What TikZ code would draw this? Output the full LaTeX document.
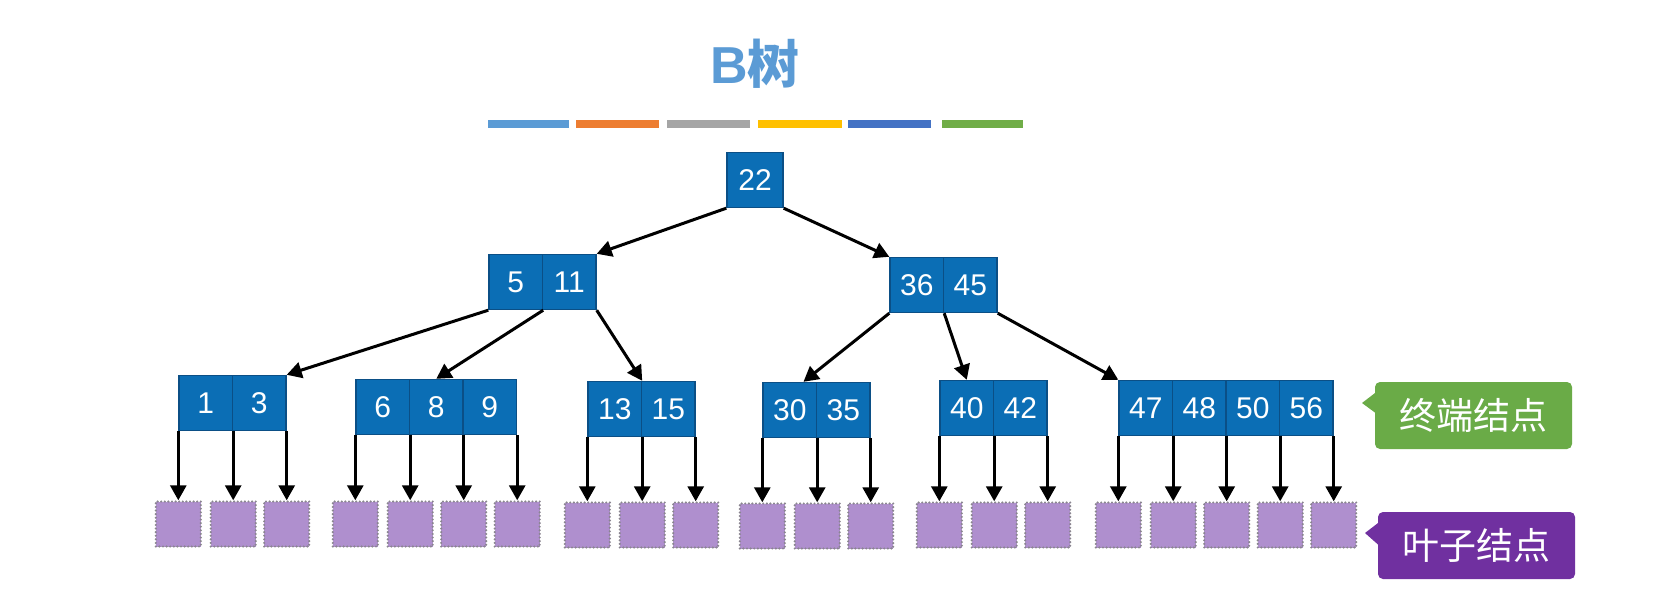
\documentclass[tikz,border=0pt]{standalone}
\usepackage{fontspec}
\setmainfont{Liberation Sans}
\newfontfamily\cjk{Noto Sans CJK SC}
\usetikzlibrary{arrows.meta,calc}
\definecolor{nodeblue}{HTML}{0B6EB5}
\definecolor{nodeedge}{HTML}{0B4F86}
\definecolor{leaffill}{HTML}{AF8FCE}
\definecolor{leafedge}{HTML}{8A8590}
\definecolor{titleblue}{HTML}{5B9BD5}
\definecolor{barA}{HTML}{5B9BD5}
\definecolor{barB}{HTML}{ED7D31}
\definecolor{barC}{HTML}{A5A5A5}
\definecolor{barD}{HTML}{FFC000}
\definecolor{barE}{HTML}{4472C4}
\definecolor{barF}{HTML}{70AD47}
\definecolor{termgreen}{HTML}{6AAB47}
\definecolor{leafpurple}{HTML}{7030A0}
\begin{document}
\begin{tikzpicture}[x=1pt,y=-1pt,
  cell/.style={draw=nodeedge, line width=1.4pt, fill=nodeblue, text=white,
    minimum width=53.5pt, minimum height=55pt, inner sep=0pt,
    font=\fontsize{30}{30}\selectfont},
  leaf/.style={draw=leafedge, dash pattern=on 0pt off 3.6pt, line cap=round, line width=2.4pt,
    fill=leaffill, minimum width=45pt, minimum height=45pt, inner sep=0pt},
  edge/.style={line width=3pt, -{Triangle[length=15pt,width=16pt]}},
  lab/.style={text=white, rounded corners=5pt, minimum width=197pt,
    minimum height=67pt, inner sep=0pt, font=\cjk\fontsize{37}{37}\selectfont},
]
\fill[white] (0,0) rectangle (1661,605);
\useasboundingbox (0,0) rectangle (1661,605);

% title
\node[text=titleblue, font=\fontsize{52}{52}\selectfont\bfseries] (title) at (755,64) {B{\cjk 树}};
\fill[barA] (488,120) rectangle (569,128);
\fill[barB] (576,120) rectangle (659,128);
\fill[barC] (667,120) rectangle (750,128);
\fill[barD] (758,120) rectangle (842,128);
\fill[barE] (848,120) rectangle (931,128);
\fill[barF] (942,120) rectangle (1023,128);

% root
\node[cell, minimum width=56pt] (r) at (755,180) {22};
% level 2
\node[cell] (a1) at (515.75,282) {5};
\node[cell] (a2) at (569.25,282) {11};
\node[cell] (b1) at (916.75,285) {36};
\node[cell] (b2) at (970.25,285) {45};
% level 3
\node[cell] (c1a) at (205.75,403) {1};
\node[cell] (c1b) at (259.25,403) {3};
\node[cell] (c2a) at (382.75,407) {6};
\node[cell] (c2b) at (436.25,407) {8};
\node[cell] (c2c) at (489.75,407) {9};
\node[cell] (c3a) at (614.75,409) {13};
\node[cell] (c3b) at (668.25,409) {15};
\node[cell] (c4a) at (789.75,410) {30};
\node[cell] (c4b) at (843.25,410) {35};
\node[cell] (c5a) at (966.75,408) {40};
\node[cell] (c5b) at (1020.25,408) {42};
\node[cell] (c6a) at (1145.75,408) {47};
\node[cell] (c6b) at (1199.25,408) {48};
\node[cell] (c6c) at (1252.75,408) {50};
\node[cell] (c6d) at (1306.25,408) {56};

% tree edges
\draw[edge] (r.south west) -- (a2.north east);
\draw[edge] (r.south east) -- (b1.north west);
\draw[edge] (a1.south west) -- (c1b.north east);
\draw[edge] (a1.south east) -- (c2b.north);
\draw[edge] (a2.south east) -- (c3a.north east);
\draw[edge] (b1.south west) -- ($(c4a.north)!0.5!(c4a.north east)$);
\draw[edge] (b1.south east) -- (c5a.north);
\draw[edge] (b2.south east) -- (c6a.north west);

% leaves
\foreach \g/\y/\list in {
  c1/524/{c1a.south west,c1a.south east,c1b.south east},
  c2/524/{c2a.south west,c2a.south east,c2b.south east,c2c.south east},
  c3/525/{c3a.south west,c3a.south east,c3b.south east},
  c4/526/{c4a.south west,c4a.south east,c4b.south east},
  c5/525/{c5a.south west,c5a.south east,c5b.south east},
  c6/525/{c6a.south west,c6a.south east,c6b.south east,c6c.south east,c6d.south east}}{
  \foreach \s [count=\k] in \list {
    \node[leaf] (\g l\k) at (\s |- 0,\y) {};
    \draw[edge] (\s) -- (\g l\k.north);
  }
}

% labels
\node[lab, fill=termgreen] (tlab) at (1473.5,415.5) {终端结点};
\fill[termgreen] ($(tlab.north west)+(0.5,11)$) -- (1362,403) -- ($(tlab.north west)+(0.5,31)$) -- cycle;
\node[lab, fill=leafpurple] (llab) at (1476.5,545.5) {叶子结点};
\fill[leafpurple] ($(llab.north west)+(0.5,11)$) -- (1365,533) -- ($(llab.north west)+(0.5,33)$) -- cycle;
\end{tikzpicture}
\end{document}
